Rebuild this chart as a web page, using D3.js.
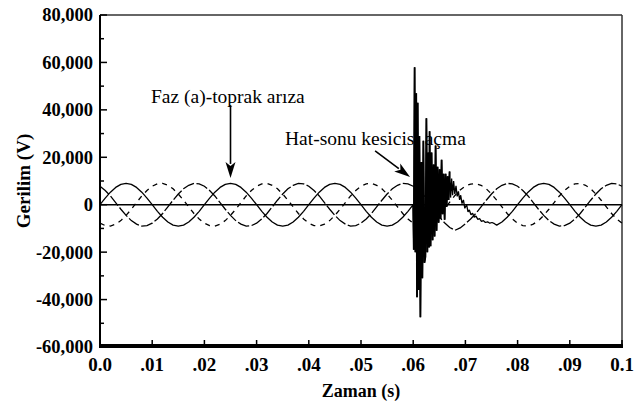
<!DOCTYPE html>
<html><head><meta charset="utf-8">
<script src="https://cdn.jsdelivr.net/npm/d3@7"></script>
<style>html,body{margin:0;padding:0;background:#fff;} svg{display:block;}</style>
</head><body><svg id="chart" width="634" height="407"></svg>
<script>
// ---------- data ----------
const xTicks = [0, 0.01, 0.02, 0.03, 0.04, 0.05, 0.06, 0.07, 0.08, 0.09, 0.1];
const xTickLabels = ["0.0", ".01", ".02", ".03", ".04", ".05", ".06", ".07", ".08", ".09", "0.1"];
const yTicks = [-60000, -40000, -20000, 0, 20000, 40000, 60000, 80000];
const yTickLabels = ["-60,000", "-40,000", "-20,000", "0", "20,000", "40,000", "60,000", "80,000"];
const yMinorTicks = [-50000, -30000, -10000, 10000, 30000, 50000, 70000];

// sample times (ms) of the three phase voltages
const sampleTimeMs = d3.range(0, 101);
// phase a (solid), null where the switching transient replaces it
const phaseA = [
  0, 2800, 5300, 7300, 8600, 9000, 8600, 7300, 5300, 2800, 0, -2800, -5300, -7300, -8600, -9000, -8600, -7300, -5300, -2800,
  0, 2800, 5300, 7300, 8600, 9000, 8600, 7300, 5300, 2800, 0, -2800, -5300, -7300, -8600, -9000, -8600, -7300, -5300, -2800,
  0, 2800, 5300, 7300, 8600, 9000, 8600, 7300, 5300, 2800, 0, -2800, -5300, -7300, -8600, -9000, -8600, -7300, -5300, -2800,
  0, null, null, null, null, null, null, null, null, null, null, null, null, null, null, null, -8600, -7300, -5300, -2800,
  0, 2800, 5300, 7300, 8600, 9000, 8600, 7300, 5300, 2800, 0, -2800, -5300, -7300, -8600, -9000, -8600, -7300, -5300, -2800,
  0
];
// phase b (short dashes)
const phaseB = [
  -7800, -8800, -9000, -8200, -6700, -4500, -1900, 900, 3700, 6000, 7800, 8800, 9000, 8200, 6700, 4500, 1900, -900, -3700, -6000,
  -7800, -8800, -9000, -8200, -6700, -4500, -1900, 900, 3700, 6000, 7800, 8800, 9000, 8200, 6700, 4500, 1900, -900, -3700, -6000,
  -7800, -8800, -9000, -8200, -6700, -4500, -1900, 900, 3700, 6000, 7800, 8800, 9000, 8200, 6700, 4500, 1900, -900, -3700, -6000,
  -7800, -8900, -9200, -8400, -6600, -4300, -1700, 1100, 3900, 6200, 7900, 8700, 8900, 8200, 6700, 4500, 1900, -900, -3700, -6000,
  -7800, -8800, -9000, -8200, -6700, -4500, -1900, 900, 3700, 6000, 7800, 8800, 9000, 8200, 6700, 4500, 1900, -900, -3700, -6000,
  -7800
];
// phase c (long dashes)
const phaseC = [
  7800, 6000, 3700, 900, -1900, -4500, -6700, -8200, -9000, -8800, -7800, -6000, -3700, -900, 1900, 4500, 6700, 8200, 9000, 8800,
  7800, 6000, 3700, 900, -1900, -4500, -6700, -8200, -9000, -8800, -7800, -6000, -3700, -900, 1900, 4500, 6700, 8200, 9000, 8800,
  7800, 6000, 3700, 900, -1900, -4500, -6700, -8200, -9000, -8800, -7800, -6000, -3700, -900, 1900, 4500, 6700, 8200, 9000, 8800,
  7800, 6200, 4000, 1000, -2400, -5200, -7600, -9600, -10800, -9800, -8000, -6000, -3700, -900, 1900, 4500, 6700, 8200, 9000, 8800,
  7800, 6000, 3700, 900, -1900, -4500, -6700, -8200, -9000, -8800, -7800, -6000, -3700, -900, 1900, 4500, 6700, 8200, 9000, 8800,
  7800
];
// breaker-opening transient on phase a (ms, V)
const transientTimeMs = [
  60.00, 60.11, 60.27, 60.42, 60.58, 60.73, 60.86, 61.03, 61.19, 61.38, 61.57, 61.76, 61.95, 62.15, 62.34, 62.53,
  62.72, 62.91, 63.03, 63.14, 63.33, 63.52, 63.72, 63.91, 64.10, 64.29, 64.48, 64.67, 64.87, 65.06, 65.25, 65.44,
  65.63, 65.82, 66.02, 66.21, 66.40, 66.59, 66.78, 66.97, 67.16, 67.36, 67.55, 67.74, 67.97, 68.20, 68.43, 68.66,
  68.89, 69.10, 69.35, 69.62, 69.89, 70.23, 70.50, 70.75, 71.07, 71.38, 71.69, 72.03, 72.38, 72.72, 73.07, 73.45,
  73.83, 74.25, 74.67, 75.10, 75.57
];
const transientV = [
  0, -19000, 58000, -20000, 47000, -39000, 43000, -36000, 29000, -47500, 18000, -31000, 27000, -24500, -22000, 36500,
  -20000, 22000, -18000, 31000, -17500, 22000, -15000, 17000, -13400, 25000, -11000, 16000, -7600, 15000, -6000, 19000,
  -4000, 13000, -6300, 13000, -1000, 12000, 2000, 14000, 3000, 11000, 4000, 10000, 4500, 8000, 3500, 5600,
  2000, 4000, 500, 2000, -1500, 0, -3000, -2200, -4200, -3600, -5300, -4800, -6200, -5900, -7000, -6700,
  -7500, -7200, -7800, -7500, -8000
];

// annotations: label, arrow tail (s, V), arrow tip (s, V), label anchor (s, V)
const annotationLabels = ["Faz (a)-toprak arıza", "Hat-sonu kesicisi açma"];
const annotationTail = [[0.025, 42000], [0.0527, 22700]];
const annotationTip = [[0.025, 11300], [0.0594, 11700]];
const annotationAnchor = [[0.00977, 43000], [0.03544, 25200]];

// ---------- layout ----------
const svg = d3.select("#chart");
const L = 100, R = 622, T = 15, B = 347;
const x = d3.scaleLinear().domain([0, 0.1]).range([L, R]);
const y = d3.scaleLinear().domain([-60000, 80000]).range([B, T]);
const serif = '"Liberation Serif"';

// frame
svg.append("line").attr("x1", L).attr("x2", R).attr("y1", T).attr("y2", T)
  .attr("stroke", "#333").attr("stroke-width", 1.5);
svg.append("line").attr("x1", R).attr("x2", R).attr("y1", T).attr("y2", B)
  .attr("stroke", "#333").attr("stroke-width", 1.5);

// annotation texts (under the waveforms)
const ann = svg.append("g");
annotationLabels.forEach((lab, i) => {
  ann.append("text")
    .attr("x", x(annotationAnchor[i][0])).attr("y", y(annotationAnchor[i][1]))
    .style("font-family", serif).attr("font-size", 19.5).attr("fill", "#000")
    .text(lab);
});

// zero line
svg.append("line").attr("x1", L).attr("x2", R).attr("y1", y(0)).attr("y2", y(0))
  .attr("stroke", "#000").attr("stroke-width", 1.4);

// waveforms
const line = d3.line().defined(d => d[1] !== null).x(d => x(d[0] / 1000)).y(d => y(d[1]));
const ptsB = sampleTimeMs.map((t, i) => [t, phaseB[i]]);
const ptsC = sampleTimeMs.map((t, i) => [t, phaseC[i]]);
const ptsT = transientTimeMs.map((t, i) => [t, transientV[i]]);
const ptsA = [];
sampleTimeMs.forEach((t, i) => { if (t <= 60 && phaseA[i] !== null) ptsA.push([t, phaseA[i]]); });
ptsT.forEach(p => ptsA.push(p));
sampleTimeMs.forEach((t, i) => { if (t >= 76 && phaseA[i] !== null) ptsA.push([t, phaseA[i]]); });

svg.append("path").attr("d", line(ptsB)).attr("fill", "none").attr("stroke", "#000")
  .attr("stroke-width", 1.3).attr("stroke-dasharray", "5,5");
svg.append("path").attr("d", line(ptsC)).attr("fill", "none").attr("stroke", "#000")
  .attr("stroke-width", 1.3).attr("stroke-dasharray", "12,2.5");
svg.append("path").attr("d", line(ptsA)).attr("fill", "none").attr("stroke", "#000")
  .attr("stroke-width", 1.3).attr("stroke-linejoin", "bevel");
// heavier strokes for the switching spikes
svg.append("path").attr("d", line(ptsT.slice(0, 40))).attr("fill", "none").attr("stroke", "#000")
  .attr("stroke-width", 1.8).attr("stroke-linejoin", "bevel");

// arrows
annotationLabels.forEach((lab, i) => {
  const x0 = x(annotationTail[i][0]), y0 = y(annotationTail[i][1]);
  const x1 = x(annotationTip[i][0]), y1 = y(annotationTip[i][1]);
  const dx = x1 - x0, dy = y1 - y0, len = Math.hypot(dx, dy);
  const ux = dx / len, uy = dy / len;
  const hl = 16, hw = 5;
  const bx = x1 - ux * hl, by = y1 - uy * hl;
  svg.append("line").attr("x1", x0).attr("y1", y0).attr("x2", bx + ux * 2).attr("y2", by + uy * 2)
    .attr("stroke", "#000").attr("stroke-width", 1.6);
  svg.append("path")
    .attr("d", `M${x1},${y1}L${bx - uy * hw},${by + ux * hw}L${bx + ux * 4},${by + uy * 4}L${bx + uy * hw},${by - ux * hw}Z`)
    .attr("fill", "#000");
});

// left axis
svg.append("line").attr("x1", L).attr("x2", L).attr("y1", T).attr("y2", B)
  .attr("stroke", "#000").attr("stroke-width", 2);
svg.append("g").selectAll("line").data(yTicks).join("line")
  .attr("x1", L).attr("x2", L + 7).attr("y1", d => y(d)).attr("y2", d => y(d))
  .attr("stroke", "#000").attr("stroke-width", 1.5);
svg.append("g").selectAll("line").data(yMinorTicks).join("line")
  .attr("x1", L).attr("x2", L + 4).attr("y1", d => y(d)).attr("y2", d => y(d))
  .attr("stroke", "#000").attr("stroke-width", 1.5);
svg.append("g").selectAll("text").data(yTicks).join("text")
  .attr("x", 93).attr("y", d => y(d)).attr("dy", "0.35em")
  .attr("text-anchor", "end").style("font-family", serif).attr("font-weight", "bold")
  .attr("font-size", 18.5).attr("fill", "#000")
  .text((d, i) => yTickLabels[i]);

// bottom axis (thick band)
svg.append("rect").attr("x", L - 1).attr("y", 344).attr("width", R - L + 2).attr("height", 4).attr("fill", "#000");
svg.append("g").selectAll("line").data(xTicks).join("line")
  .attr("x1", d => x(d)).attr("x2", d => x(d)).attr("y1", 344).attr("y2", 340)
  .attr("stroke", "#000").attr("stroke-width", 1.5);
svg.append("g").selectAll("text").data(xTicks).join("text")
  .attr("x", d => x(d)).attr("y", 371)
  .attr("text-anchor", "middle").style("font-family", serif).attr("font-weight", "bold")
  .attr("font-size", 19).attr("fill", "#000")
  .text((d, i) => xTickLabels[i]);

// axis titles
svg.append("text").attr("x", (L + R) / 2).attr("y", 397).attr("text-anchor", "middle")
  .style("font-family", serif).attr("font-weight", "bold").attr("font-size", 18).attr("fill", "#000")
  .text("Zaman (s)");
svg.append("text").attr("transform", `translate(30,${(T + B) / 2}) rotate(-90)`).attr("text-anchor", "middle")
  .style("font-family", serif).attr("font-weight", "bold").attr("font-size", 19).attr("fill", "#000")
  .text("Gerilim (V)");
</script>
</body></html>
